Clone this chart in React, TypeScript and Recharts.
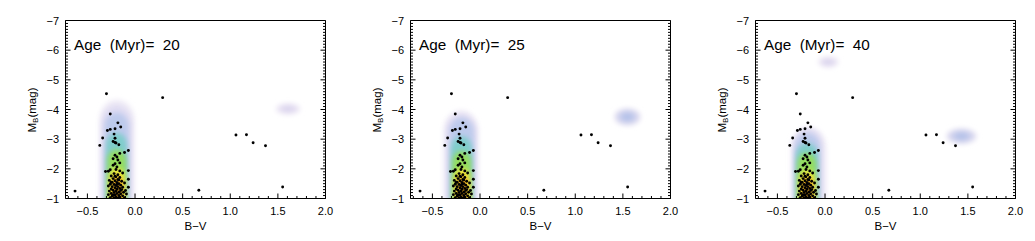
import { ScatterChart, Scatter, XAxis, YAxis, ReferenceArea } from 'recharts';

const AGES = [20, 25, 40];

// stars outside the cluster sequence: [B-V, M_B], same in every panel
const FIELD_STARS: [number, number][] = [
  [-0.63, -1.25], [0.29, -4.4], [-0.3, -4.53], [0.67, -1.28], [1.06, -3.14],
  [1.17, -3.15], [1.24, -2.88], [1.37, -2.78], [1.55, -1.39],
];

// main sequence members: [B-V, M_B]
const CLUSTER_STARS: [number, number][] = [
  [-0.26, -3.85], [-0.18, -3.55], [-0.15, -3.41], [-0.21, -3.35], [-0.26, -3.33], [-0.29, -3.29],
  [-0.34, -3.04], [-0.37, -2.79], [-0.22, -3.17], [-0.21, -3.03], [-0.23, -2.92], [-0.21, -2.89],
  [-0.2, -2.87], [-0.17, -2.81], [-0.07, -2.62], [-0.11, -2.55], [-0.16, -2.52], [-0.21, -2.46],
  [-0.19, -2.4], [-0.23, -2.34], [-0.18, -2.3], [-0.16, -2.2], [-0.21, -2.17], [-0.23, -2.12],
  [-0.19, -2.06], [-0.26, -1.97], [-0.31, -1.91], [-0.28, -1.92], [-0.07, -1.94], [-0.2, -1.98],
  [-0.16, -1.93], [-0.13, -1.86], [-0.22, -1.84], [-0.18, -1.8],
  [-0.25, -1.76], [-0.2, -1.73], [-0.16, -1.71], [-0.23, -1.67], [-0.18, -1.64], [-0.07, -1.65],
  [-0.27, -1.61], [-0.21, -1.6], [-0.14, -1.58], [-0.24, -1.55], [-0.19, -1.54], [-0.17, -1.5],
  [-0.11, -1.52], [-0.26, -1.48], [-0.22, -1.47], [-0.2, -1.44], [-0.15, -1.45], [-0.28, -1.42],
  [-0.24, -1.4], [-0.18, -1.4], [-0.13, -1.38], [-0.07, -1.38], [-0.21, -1.36], [-0.16, -1.34],
  [-0.25, -1.32], [-0.19, -1.31], [-0.23, -1.28], [-0.14, -1.3], [-0.1, -1.27], [-0.27, -1.25],
  [-0.2, -1.25], [-0.17, -1.22], [-0.22, -1.2], [-0.12, -1.21], [-0.25, -1.17], [-0.19, -1.17],
  [-0.15, -1.16], [-0.28, -1.13], [-0.21, -1.12], [-0.17, -1.1], [-0.24, -1.08], [-0.13, -1.09],
  [-0.2, -1.05], [-0.16, -1.04], [-0.26, -1.03], [-0.22, -1.02], [-0.18, -1.01], [-0.11, -1.03],
  [-0.09, -1.15], [-0.23, -1.12], [-0.19, -1.48], [-0.17, -1.62], [-0.21, -1.75], [-0.15, -1.27],
  [-0.25, -1.55],
];

const X_MAJOR = [-0.5, 0, 0.5, 1, 1.5, 2];
const Y_MAJOR = [-7, -6, -5, -4, -3, -2, -1];
const X_DOMAIN: [number, number] = [-0.73, 2.0];
const Y_DOMAIN: [number, number] = [-7, -1];

// main sequence density contours, outer to inner: [B-V left, B-V right, top M_B]
const MS_20 = [
  [-0.375, -0.005, -4.34], [-0.35, -0.035, -4.15], [-0.32, -0.065, -3.9], [-0.305, -0.085, -3.22],
  [-0.29, -0.095, -2.64], [-0.27, -0.11, -2.03], [-0.245, -0.13, -1.74],
];
const MS_25 = [
  [-0.385, -0.015, -3.98], [-0.355, -0.04, -3.85], [-0.32, -0.065, -3.72], [-0.305, -0.085, -3.1],
  [-0.29, -0.095, -2.59], [-0.27, -0.11, -2.02], [-0.245, -0.13, -1.74],
];
const MS_40 = [
  [-0.355, 0.015, -3.41], [-0.335, -0.025, -3.35], [-0.315, -0.055, -3.21], [-0.305, -0.075, -2.87],
  [-0.29, -0.095, -2.53], [-0.27, -0.11, -1.97], [-0.245, -0.13, -1.69],
];

// isolated density clumps: [B-V, M_B, half-width, half-height, peak level]
const CLUMPS_20 = [[1.607, -4.02, 0.13, 0.2, 1]];
const CLUMPS_25 = [[1.548, -3.75, 0.14, 0.3, 2]];
const CLUMPS_40 = [[0.035, -5.6, 0.11, 0.19, 1], [1.433, -3.1, 0.16, 0.27, 2]];

const MS_BY_AGE = [MS_20, MS_25, MS_40];
const CLUMPS_BY_AGE = [CLUMPS_20, CLUMPS_25, CLUMPS_40];

const DENSITY_COLORS = ['#efebf6', '#e0dcf2', '#bdcaec', '#80cdcc', '#94dd5e', '#efe43a', '#f6ab1e'];
const FONT = '"Liberation Sans", Arial, Helvetica, sans-serif';

// plot frame in pixels (from the chart margins and axis sizes)
const PLOT = { x: 65.5, y: 20.5, w: 260, h: 178 };

const xTicks: number[] = [];
for (let i = -7; i <= 20; i++) xTicks.push(i / 10);
const yTicks: number[] = [];
for (let i = -70; i <= -10; i++) yTicks.push(i / 10);

const isXMajor = (v: number) => X_MAJOR.some(m => Math.abs(m - v) < 1e-6);
const isYMajor = (v: number) => Y_MAJOR.some(m => Math.abs(m - v) < 1e-6);
const minus = (s: string) => s.replace('-', '\u2212');

const BottomTick = ({ x, y, payload }: any) => {
  const major = isXMajor(payload.value);
  return (
    <g>
      <line x1={x} x2={x} y1={y} y2={y - (major ? 5 : 2.5)} stroke="#000" />
      {major && (
        <text x={x} y={y + 16.5} textAnchor="middle" fontSize={11} fontFamily={FONT} fill="#000">
          {minus(payload.value.toFixed(1))}
        </text>
      )}
    </g>
  );
};

const TopTick = ({ x, y, payload }: any) => {
  const major = isXMajor(payload.value);
  return <line x1={x} x2={x} y1={y} y2={y + (major ? 5 : 2.5)} stroke="#000" />;
};

const LeftTick = ({ x, y, payload }: any) => {
  const major = isYMajor(payload.value);
  return (
    <g>
      <line x1={x} x2={x + (major ? 5 : 2.5)} y1={y} y2={y} stroke="#000" />
      {major && (
        <text x={x - 6.5} y={y + 4} textAnchor="end" fontSize={11} fontFamily={FONT} fill="#000">
          {minus(String(payload.value))}
        </text>
      )}
    </g>
  );
};

const RightTick = ({ x, y, payload }: any) => {
  const major = isYMajor(payload.value);
  return <line x1={x} x2={x - (major ? 5 : 2.5)} y1={y} y2={y} stroke="#000" />;
};

const StarDot = ({ cx, cy }: any) => <circle cx={cx} cy={cy} r={1.45} fill="#000" />;

function Panel({ index }: { index: number }) {
  const age = AGES[index];
  const blur = `blur${age}`;
  const clip = `frame${age}`;
  const stars = CLUSTER_STARS.concat(FIELD_STARS).map(([x, y]) => ({ x, y }));
  return (
    <ScatterChart width={345} height={241} margin={{ top: 19.5, right: 18.5, bottom: 12.5, left: 25.5 }}>
      <defs>
        <filter id={blur} x="-50%" y="-50%" width="200%" height="200%">
          <feGaussianBlur stdDeviation={2.4} />
        </filter>
        <clipPath id={clip}>
          <rect x={PLOT.x} y={PLOT.y} width={PLOT.w} height={PLOT.h} />
        </clipPath>
        <radialGradient id={`clump1_${age}`}>
          <stop offset="0%" stopColor="#d4cfec" />
          <stop offset="60%" stopColor="#e4ddf1" />
          <stop offset="100%" stopColor="#f2eef8" />
        </radialGradient>
        <radialGradient id={`clump2_${age}`}>
          <stop offset="0%" stopColor="#aabde6" />
          <stop offset="45%" stopColor="#c0c8eb" />
          <stop offset="100%" stopColor="#ebe5f3" />
        </radialGradient>
      </defs>
      <XAxis
        dataKey="x" type="number" domain={X_DOMAIN} ticks={xTicks} interval={0} height={30}
        tickSize={0} tickMargin={0} tickLine={false} axisLine={{ stroke: '#000' }} tick={BottomTick} allowDataOverflow
      />
      <XAxis
        xAxisId="top" orientation="top" type="number" domain={X_DOMAIN} ticks={xTicks} interval={0} height={1}
        tickSize={0} tickMargin={0} tickLine={false} axisLine={{ stroke: '#000' }} tick={TopTick} allowDataOverflow
      />
      <YAxis
        dataKey="y" type="number" domain={Y_DOMAIN} reversed ticks={yTicks} interval={0} width={40}
        tickSize={0} tickMargin={0} tickLine={false} axisLine={{ stroke: '#000' }} tick={LeftTick} allowDataOverflow
      />
      <YAxis
        yAxisId="right" orientation="right" type="number" domain={Y_DOMAIN} reversed ticks={yTicks} interval={0} width={1}
        tickSize={0} tickMargin={0} tickLine={false} axisLine={{ stroke: '#000' }} tick={RightTick} allowDataOverflow
      />
      {MS_BY_AGE[index].map(([x1, x2, top], i) => (
        <ReferenceArea
          key={`ms${i}`} x1={x1} x2={x2} y1={top} y2={-0.4} ifOverflow="visible"
          shape={(p: any) => (
            <g clipPath={`url(#${clip})`}>
              <rect
                x={p.x} y={p.y} width={p.width} height={p.height}
                rx={p.width / 2} ry={Math.min(p.width * 0.6, p.height / 2)}
                fill={DENSITY_COLORS[i]} filter={`url(#${blur})`}
              />
            </g>
          )}
        />
      ))}
      {CLUMPS_BY_AGE[index].map(([cx, cy, hw, hh, peak], i) => (
        <ReferenceArea
          key={`cl${i}`} x1={cx - hw} x2={cx + hw} y1={cy - hh} y2={cy + hh} ifOverflow="visible"
          shape={(p: any) => (
            <ellipse
              cx={p.x + p.width / 2} cy={p.y + p.height / 2} rx={p.width / 2} ry={p.height / 2}
              fill={`url(#clump${peak}_${age})`} filter={`url(#${blur})`}
            />
          )}
        />
      ))}
      <Scatter data={stars} shape={StarDot} isAnimationActive={false} />
      <text x={74} y={50} fontSize={15.3} fontFamily={FONT} fill="#000">
        {`Age\u00A0 (Myr)=\u00A0 ${age}`}
      </text>
      <text x={195.5} y={230} textAnchor="middle" fontSize={11.5} fontFamily={FONT} fill="#000">
        B{'\u2212'}V
      </text>
      <text transform="translate(35.5,110) rotate(-90)" textAnchor="middle" fontSize={11.5} fontFamily={FONT} fill="#000">
        <tspan>M</tspan>
        <tspan fontSize={8} dy={2.5}>B</tspan>
        <tspan dy={-2.5}>(mag)</tspan>
      </text>
    </ScatterChart>
  );
}

export default function App() {
  return (
    <div style={{ position: 'absolute', left: 0, top: 0, width: 1035, height: 241, display: 'flex', background: '#fff' }}>
      {AGES.map((_, i) => (
        <Panel key={i} index={i} />
      ))}
    </div>
  );
}
